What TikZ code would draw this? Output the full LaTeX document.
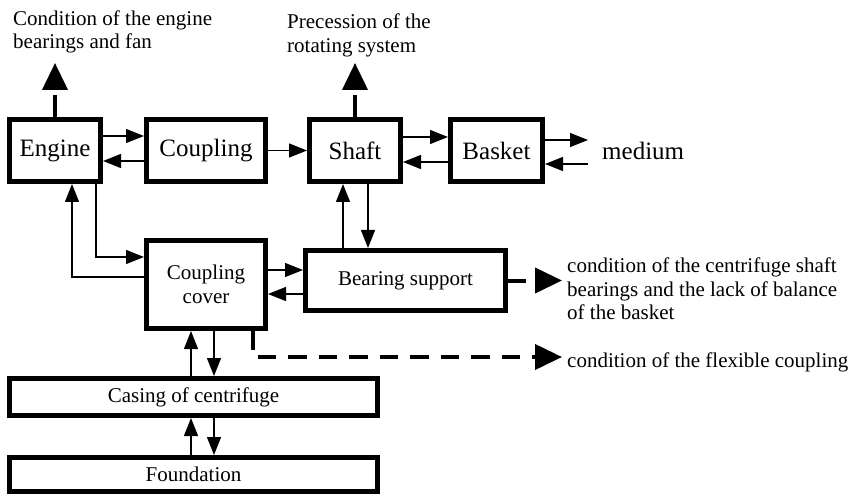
\documentclass[tikz,border=0pt]{standalone}
\usepackage{fontspec}
\setmainfont{Liberation Serif}
\usetikzlibrary{arrows.meta}
\begin{document}
\begin{tikzpicture}[x=1pt,y=-1pt,
    blk/.style={draw,line width=5pt,inner sep=0pt,font=\fontsize{25}{28}\selectfont},
    sblk/.style={blk,font=\fontsize{21}{23.5}\selectfont,align=center},
    sig/.style={line width=1.4pt,-{Triangle[length=18pt,width=14pt]}},
    outarr/.style={line width=4pt,-{Triangle[length=27pt,width=25pt]}},
    lbl/.style={inner sep=0pt,font=\fontsize{21}{23.5}\selectfont,align=left}]
    \useasboundingbox (0,0) rectangle (856,494);
    \node[blk,minimum width=91pt,minimum height=62pt] (engine) at (55,150.5) {Engine};
    \node[blk,minimum width=119pt,minimum height=62pt] (coupling) at (206,150.5) {Coupling};
    \node[blk,minimum width=91pt,minimum height=62pt] (shaft) at (355,150.5) {Shaft};
    \node[blk,minimum width=92pt,minimum height=62pt] (basket) at (496.5,150.5) {Basket};
    \node[sblk,minimum width=119pt,minimum height=88pt] (cover) at (206,284.5) {Coupling\\cover};
    \node[sblk,minimum width=200pt,minimum height=60pt] (bearing) at (405.5,280.5) {Bearing support};
    \node[sblk,minimum width=368pt,minimum height=37pt] (casing) at (193.5,397) {Casing of centrifuge};
    \node[sblk,minimum width=368pt,minimum height=34pt] (found) at (193.5,474.5) {Foundation};

    \node[lbl,anchor=north west] (englbl) at (13,10.5) {Condition of the engine\\bearings and fan};
    \node[lbl,anchor=north west] (prelbl) at (287,14) {Precession of the\\rotating system};
    \node[lbl,anchor=north west] (bearlbl) at (567,258) {condition of the centrifuge shaft\\bearings and the lack of balance\\of the basket};
    \node[lbl,anchor=base west] (flexlbl) at (567,367) {condition of the flexible coupling};
    \node[anchor=base west,inner sep=0pt,font=\fontsize{25}{28}\selectfont] (medium) at (602,160) {medium};

    \coordinate (engout) at (55,63);
    \coordinate (shout) at (355,63);
    \coordinate (bearout) at (562,280.5);
    \coordinate (flexout) at (562,357);
    \coordinate (medout) at (588,140);
    \coordinate (medin) at (588,164);

    \draw[outarr,dash pattern=on 21.5pt off 20pt] (engine.north) -- (engout);
    \draw[outarr,dash pattern=on 21.5pt off 20pt] (shaft.north) -- (shout);
    \draw[outarr,dash pattern=on 17.5pt off 20pt] (bearing.east) -- (bearout);
    \draw[outarr,dash pattern=on 18.5pt off 12pt] (cover.south -| 253,0) |- (flexout);

    \draw[sig] (engine.east |- 0,136) -- (coupling.west |- 0,136);
    \draw[sig] (coupling.west |- 0,161) -- (engine.east |- 0,161);
    \draw[sig] (coupling.east) -- (shaft.west);
    \draw[sig] (shaft.east |- 0,137) -- (basket.west |- 0,137);
    \draw[sig] (basket.west |- 0,162) -- (shaft.east |- 0,162);
    \draw[sig] (basket.east |- 0,140) -- (medout);
    \draw[sig] (medin) -- (basket.east |- 0,164);

    \draw[sig] (engine.south -| 96,0) |- (cover.west |- 0,257);
    \draw[sig] (cover.west |- 0,277) -| (engine.south -| 72,0);
    \draw[sig] (cover.east |- 0,270) -- (bearing.west |- 0,270);
    \draw[sig] (bearing.west |- 0,294) -- (cover.east |- 0,294);
    \draw[sig] (bearing.north -| 343,0) -- (shaft.south -| 343,0);
    \draw[sig] (shaft.south -| 368,0) -- (bearing.north -| 368,0);

    \draw[sig] (casing.north -| 191,0) -- (cover.south -| 191,0);
    \draw[sig] (cover.south -| 214,0) -- (casing.north -| 214,0);
    \draw[sig] (found.north -| 191,0) -- (casing.south -| 191,0);
    \draw[sig] (casing.south -| 214,0) -- (found.north -| 214,0);
\end{tikzpicture}
\end{document}
